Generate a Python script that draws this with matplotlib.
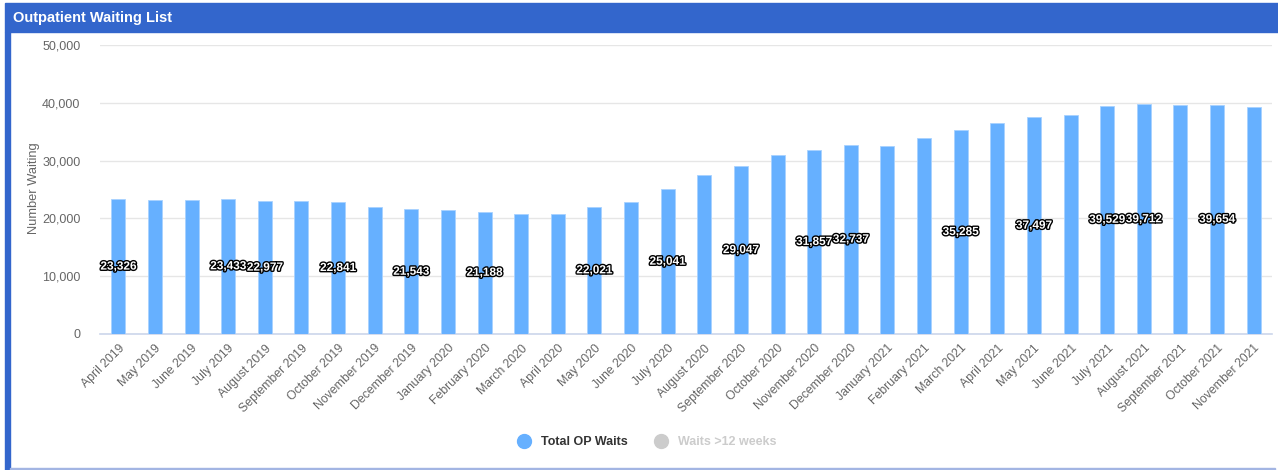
import matplotlib.pyplot as plt
import matplotlib.patheffects as pe
from matplotlib.patches import Rectangle
from matplotlib.lines import Line2D
from matplotlib.ticker import FuncFormatter

plt.rcParams['font.family'] = ['Liberation Sans', 'DejaVu Sans']

months = ["April 2019", "May 2019", "June 2019", "July 2019", "August 2019",
          "September 2019", "October 2019", "November 2019", "December 2019",
          "January 2020", "February 2020", "March 2020", "April 2020", "May 2020",
          "June 2020", "July 2020", "August 2020", "September 2020", "October 2020",
          "November 2020", "December 2020", "January 2021", "February 2021",
          "March 2021", "April 2021", "May 2021", "June 2021", "July 2021",
          "August 2021", "September 2021", "October 2021", "November 2021"]

total_waits = [23326, 23130, 23130, 23433, 22977, 22960, 22841, 22020, 21543,
               21450, 21188, 20710, 20710, 22021, 22790, 25041, 27500, 29047,
               30970, 31857, 32737, 32530, 33900, 35285, 36500, 37497, 37890,
               39529, 39712, 39650, 39654, 39220]

# labels highcharts managed to show (others hidden by overlap)
shown_labels = ["April 2019", "July 2019", "August 2019", "October 2019",
                "December 2019", "February 2020", "May 2020", "July 2020",
                "September 2020", "November 2020", "December 2020", "March 2021",
                "May 2021", "July 2021", "August 2021", "October 2021"]

W, H = 1278, 470
fig = plt.figure(figsize=(W / 100, H / 100), dpi=100)
fig.patch.set_facecolor('white')

# panel frame: header bar, left border, bottom line
fig.patches.append(Rectangle((5 / W, 1 - 32 / H), 1 - 5 / W, 29 / H,
                             transform=fig.transFigure, color='#3366cc', zorder=0))
fig.patches.append(Rectangle((5 / W, 1 - 470 / H), 5 / W, (470 - 32) / H,
                             transform=fig.transFigure, color='#3366cc', zorder=0))
fig.patches.append(Rectangle((10 / W, 1 - 470 / H), 1265 / W, 2 / H,
                             transform=fig.transFigure, color='#a3b5e3', zorder=0))
fig.text(13 / W, 1 - 18 / H, "Outpatient Waiting List", color='white',
         fontsize=10.5, fontweight='bold', va='center', ha='left')

# plot area in pixels: x 100..1272, y 45..334
ax = fig.add_axes([100 / W, 1 - 334 / H, 1172 / W, 289 / H])
x = range(len(months))
ax.bar(x, total_waits, width=0.38, color='#66b0ff', edgecolor='#a8d2ff',
       linewidth=0.6, zorder=3)

for i, (m, v) in enumerate(zip(months, total_waits)):
    if m in shown_labels:
        ax.text(i, v / 2, f"{v:,}", ha='center', va='center', fontsize=8.5,
                fontweight='bold', color='white', zorder=5,
                path_effects=[pe.withStroke(linewidth=2, foreground='black')])

ax.set_xlim(-0.5, len(months) - 0.5)
ax.set_ylim(0, 50000)
ax.set_yticks([0, 10000, 20000, 30000, 40000, 50000])
ax.yaxis.set_major_formatter(FuncFormatter(lambda v, p: f"{int(v):,}"))
ax.set_xticks(list(x))
ax.set_xticklabels(months, rotation=45, ha='right', rotation_mode='anchor',
                   fontsize=8.8, color='#666666')
ax.tick_params(axis='y', length=0, labelsize=9, labelcolor='#666666', pad=14)
ax.tick_params(axis='x', length=0, pad=6)
ax.grid(axis='y', color='#e6e6e6', linewidth=1, zorder=0)
for s in ['top', 'right', 'left']:
    ax.spines[s].set_visible(False)
ax.spines['bottom'].set_color('#ccd6eb')
ax.spines['bottom'].set_linewidth(1.2)
fig.text(34 / W, 1 - 188 / H, "Number Waiting", rotation=90, ha='center',
         va='center', fontsize=9.3, color='#666666')

handles = [Line2D([], [], marker='o', linestyle='', markersize=10,
                  color='#66b0ff'),
           Line2D([], [], marker='o', linestyle='', markersize=10,
                  color='#cccccc')]
leg = fig.legend(handles, ["Total OP Waits", "Waits >12 weeks"], loc='center',
                 bbox_to_anchor=(644 / W, 1 - 442 / H), ncol=2, frameon=False,
                 prop={'weight': 'bold', 'size': 9}, handletextpad=0.4,
                 columnspacing=1.6)
leg.get_texts()[0].set_color('#333333')
leg.get_texts()[1].set_color('#cccccc')

fig.savefig('out.png', dpi=100)
